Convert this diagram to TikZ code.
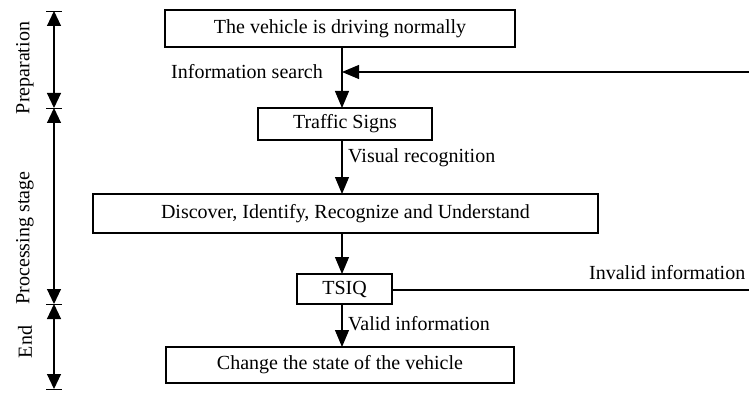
\documentclass[tikz,border=0pt]{standalone}
\usepackage{fontspec}
\setmainfont{Liberation Serif}
\usetikzlibrary{arrows.meta}
\begin{document}
\begin{tikzpicture}[x=1pt,y=-1pt,
  lbl/.style={font=\fontsize{20}{24}\selectfont,inner sep=0pt},
  boxline/.style={line width=1.1pt},
  flow/.style={line width=1.1pt,-{Triangle[length=17pt,width=14pt]}},
  span/.style={line width=1.1pt,{Triangle[length=15pt,width=14pt]}-{Triangle[length=15pt,width=14pt]}},
  tick/.style={line width=0.8pt}]
\useasboundingbox (0,0) rectangle (749,393);
\clip (0,0) rectangle (749,393);
% boxes
\draw[boxline] (165,10) rectangle (515,47);
\node[lbl] (b1) at (340,28.5) {The vehicle is driving normally};
\coordinate (b1s) at (342,47);
\draw[boxline] (258,108) rectangle (432,140);
\node[lbl] (b2) at (345,124) {Traffic Signs};
\coordinate (b2n) at (342,108);
\coordinate (b2s) at (342,140);
\draw[boxline] (93,194) rectangle (598,233);
\node[lbl] (b3) at (345.5,213.5) {Discover, Identify, Recognize and Understand};
\coordinate (b3n) at (342,194);
\coordinate (b3s) at (342,233);
\draw[boxline] (297,274) rectangle (392,304);
\node[lbl] (b4) at (344.5,289) {TSIQ};
\coordinate (b4n) at (342,274);
\coordinate (b4s) at (342,304);
\coordinate (b4e) at (392,290);
\draw[boxline] (166,347) rectangle (514,383);
\node[lbl] (b5) at (340,365) {Change the state of the vehicle};
\coordinate (b5n) at (342,347);
% flow connectors
\coordinate (j) at (342,72);
\coordinate (r1) at (760,72);
\coordinate (r2) at (760,290);
\draw[flow] (b1s) -- (b2n);
\draw[flow] (r1) -- (j);
\draw[flow] (b2s) -- (b3n);
\draw[flow] (b3s) -- (b4n);
\draw[flow] (b4s) -- (b5n);
\draw[boxline] (b4e) -- (r2);
% labels
\node[lbl,anchor=west] (l3) at (589,273) {Invalid information};
\node[lbl,anchor=east] (l1) at (323,72) {Information search};
\node[lbl,anchor=west] (l2) at (348,158) {Visual recognition};
\node[lbl,anchor=west] (l4) at (348,324) {Valid information};
% left stage axis
\coordinate (t0) at (54,11);
\coordinate (t1) at (54,108);
\coordinate (t2) at (54,304);
\coordinate (t3) at (54,389);
\foreach \t in {t0,t1,t2,t3} \draw[tick] ([xshift=-8pt]\t) -- ([xshift=8pt]\t);
\draw[span] (t0) -- (t1);
\draw[span] (t1) -- (t2);
\draw[span] (t2) -- (t3);
\node[lbl,rotate=90] (s1) at (25,68) {Preparation};
\node[lbl,rotate=90] (s2) at (25,238) {Processing stage};
\node[lbl,rotate=90] (s3) at (25,342) {End};
\end{tikzpicture}
\end{document}
